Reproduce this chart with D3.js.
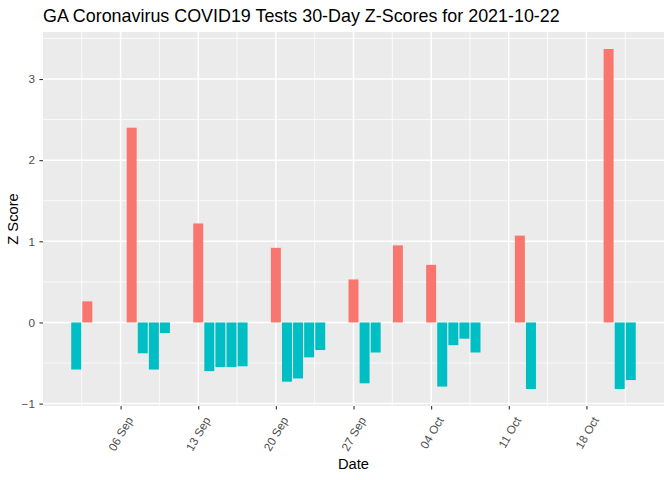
<!DOCTYPE html>
<html>
<head>
<meta charset="utf-8">
<script src="https://cdn.jsdelivr.net/npm/d3@7"></script>
<style>
  body { margin: 0; background: #fff; }
  svg { display: block; font-family: "Liberation Sans", Arial, sans-serif; }
</style>
</head>
<body>
<div id="chart"></div>
<script>
// daily z-scores (weekdays only, as in the source)
const dates = [
  '2021-09-02', '2021-09-03', '2021-09-07', '2021-09-08', '2021-09-09', '2021-09-10',
  '2021-09-13', '2021-09-14', '2021-09-15', '2021-09-16', '2021-09-17',
  '2021-09-20', '2021-09-21', '2021-09-22', '2021-09-23', '2021-09-24',
  '2021-09-27', '2021-09-28', '2021-09-29', '2021-10-01',
  '2021-10-04', '2021-10-05', '2021-10-06', '2021-10-07', '2021-10-08',
  '2021-10-12', '2021-10-13', '2021-10-20', '2021-10-21', '2021-10-22'
];
const zScores = [
  -0.58, 0.26, 2.40, -0.38, -0.58, -0.13,
  1.22, -0.60, -0.55, -0.55, -0.54,
  0.92, -0.73, -0.69, -0.43, -0.34,
  0.53, -0.75, -0.37, 0.95,
  0.71, -0.79, -0.28, -0.20, -0.37,
  1.07, -0.82, 3.37, -0.82, -0.71
];
const yTicks = [-1, 0, 1, 2, 3];
const fillPos = '#F8766D', fillNeg = '#00BFC4';

const W = 672, H = 480;
const m = { top: 32, right: 8, bottom: 74, left: 43 };
const DAY = 864e5;

const parse = d3.utcParse('%Y-%m-%d');
const data = dates.map((d, i) => ({ date: parse(d), z: zScores[i] }));

const svg = d3.select('#chart').append('svg').attr('width', W).attr('height', H);

// ggplot-like domains: bar half-width then 5% expansion
const x0 = +data[0].date - 0.45 * DAY, x1 = +data[data.length - 1].date + 0.45 * DAY;
const xPad = (x1 - x0) * 0.05;
const x = d3.scaleUtc().domain([new Date(x0 - xPad), new Date(x1 + xPad)]).range([m.left, W - m.right]);

const yMin = d3.min(zScores), yMax = d3.max(zScores);
const yPad = (yMax - yMin) * 0.05;
const y = d3.scaleLinear().domain([yMin - yPad, yMax + yPad]).range([H - m.bottom, m.top]);

// panel
svg.append('rect').attr('x', m.left).attr('y', m.top)
  .attr('width', W - m.right - m.left).attr('height', H - m.bottom - m.top)
  .attr('fill', '#EBEBEB');

const grid = svg.append('g');
const xMajor = x.ticks(d3.utcMonday.every(1));
const xAll = [d3.utcDay.offset(xMajor[0], -7), ...xMajor, d3.utcDay.offset(xMajor[xMajor.length - 1], 7)];
const xMinor = d3.pairs(xAll).map(([a, b]) => new Date((+a + +b) / 2))
  .filter(d => d >= x.domain()[0] && d <= x.domain()[1]);
const yMinor = d3.range(-1.5, 4, 1).filter(v => v >= y.domain()[0] && v <= y.domain()[1]);

yMinor.forEach(v => grid.append('line').attr('x1', m.left).attr('x2', W - m.right)
  .attr('y1', y(v)).attr('y2', y(v)).attr('stroke', '#fff').attr('stroke-width', 0.8));
xMinor.forEach(d => grid.append('line').attr('x1', x(d)).attr('x2', x(d))
  .attr('y1', m.top).attr('y2', H - m.bottom).attr('stroke', '#fff').attr('stroke-width', 0.8));
yTicks.forEach(v => grid.append('line').attr('x1', m.left).attr('x2', W - m.right)
  .attr('y1', y(v)).attr('y2', y(v)).attr('stroke', '#fff').attr('stroke-width', 1.5));
xMajor.forEach(d => grid.append('line').attr('x1', x(d)).attr('x2', x(d))
  .attr('y1', m.top).attr('y2', H - m.bottom).attr('stroke', '#fff').attr('stroke-width', 1.5));

// bars
const bw = x(new Date(0.9 * DAY)) - x(new Date(0));
svg.append('g').selectAll('rect').data(data).join('rect')
  .attr('x', d => x(d.date) - bw / 2)
  .attr('width', bw)
  .attr('y', d => y(Math.max(0, d.z)))
  .attr('height', d => Math.abs(y(d.z) - y(0)))
  .attr('fill', d => d.z >= 0 ? fillPos : fillNeg);

// axes
const xAxis = svg.append('g').attr('transform', `translate(0,${H - m.bottom})`)
  .call(d3.axisBottom(x).tickValues(xMajor).tickFormat(d3.utcFormat('%d %b')).tickSize(3.6).tickPadding(2));
xAxis.select('.domain').remove();
xAxis.selectAll('line').attr('stroke', '#333333').attr('stroke-width', 1.1);
xAxis.selectAll('text')
  .attr('fill', '#4D4D4D').attr('font-size', 11.7)
  .attr('text-anchor', 'end')
  .attr('dy', '0.35em')
  .attr('transform', 'translate(4,9) rotate(-60)');

const yAxis = svg.append('g').attr('transform', `translate(${m.left},0)`)
  .call(d3.axisLeft(y).tickValues(yTicks).tickFormat(d3.format('d')).tickSize(3.6).tickPadding(4.5));
yAxis.select('.domain').remove();
yAxis.selectAll('line').attr('stroke', '#333333').attr('stroke-width', 1.1);
yAxis.selectAll('text').attr('fill', '#4D4D4D').attr('font-size', 11.7);

// titles
svg.append('text').attr('x', m.left).attr('y', 22)
  .attr('font-size', 17.9).attr('fill', '#000')
  .text('GA Coronavirus COVID19 Tests 30-Day Z-Scores for 2021-10-22');

svg.append('text').attr('x', (m.left + W - m.right) / 2).attr('y', 469)
  .attr('text-anchor', 'middle').attr('font-size', 14.7).attr('fill', '#000')
  .text('Date');

svg.append('text').attr('transform', `translate(18,${(m.top + H - m.bottom) / 2}) rotate(-90)`)
  .attr('text-anchor', 'middle').attr('font-size', 14.7).attr('fill', '#000')
  .text('Z Score');
</script>
</body>
</html>
